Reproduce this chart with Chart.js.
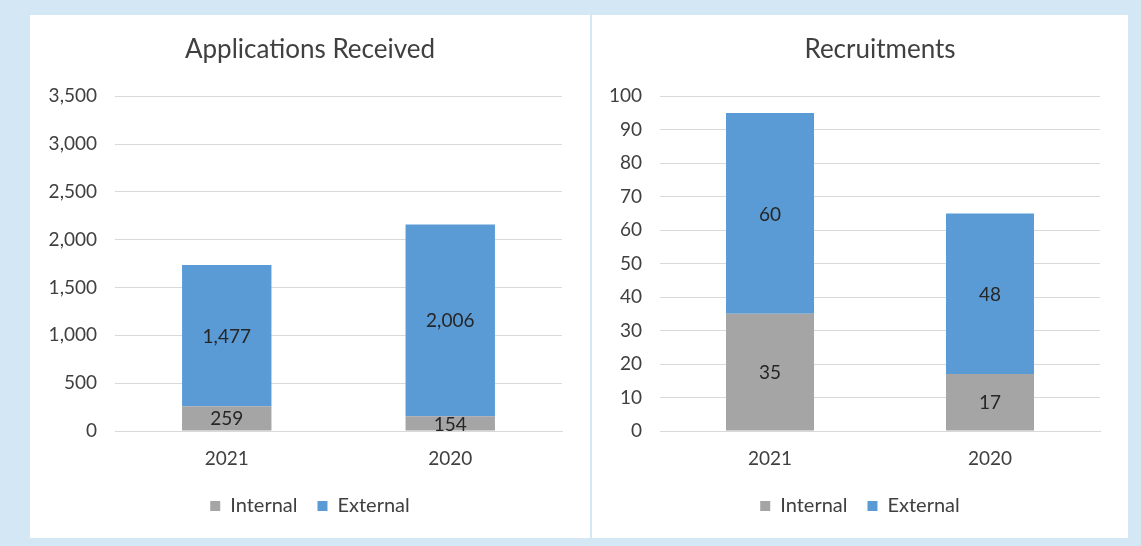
<!DOCTYPE html>
<html>
<head>
<meta charset="utf-8">
<script src="https://cdn.jsdelivr.net/npm/chart.js@4"></script>
<style>
  html, body { margin: 0; padding: 0; background: #d3e8f4; width: 1141px; height: 546px; overflow: hidden; }
  #panel { position: absolute; left: 30px; top: 15px; width: 1098px; height: 523px; background: #fff; }
  #divider { position: absolute; left: 560px; top: 0; width: 2px; height: 523px; background: #d3e8f4; }
  #c1 { position: absolute; left: 0; top: 0; }
  #c2 { position: absolute; left: 562px; top: 0; }
</style>
</head>
<body>
<div id="panel">
  <canvas id="c1" width="560" height="523"></canvas>
  <div id="divider"></div>
  <canvas id="c2" width="536" height="523"></canvas>
</div>
<script>
var years = ['2021', '2020'];
var appsInternal = [259, 154];
var appsExternal = [1477, 2006];
var recInternal = [35, 17];
var recExternal = [60, 48];

var GREY = '#a5a5a5';
var BLUE = '#5b9bd5';
var TEXT = '#404040';
var FONT = 'Lato';

// labels au centre de chaque segment
var segmentLabels = {
    id: 'segmentLabels',
    afterDatasetsDraw: function(chart) {
        var ctx = chart.ctx;
        ctx.save();
        ctx.font = '19px ' + FONT;
        ctx.fillStyle = '#262626';
        ctx.textAlign = 'center';
        ctx.textBaseline = 'middle';
        chart.data.datasets.forEach(function(ds, i) {
            chart.getDatasetMeta(i).data.forEach(function(bar, j) {
                var y = (bar.y + bar.base) / 2;
                ctx.fillText(ds.data[j].toLocaleString('en-US'), bar.x, y + 1);
            });
        });
        ctx.restore();
    }
};

function makeChart(id, title, internal, external, max, step, yWidth, titleFull) {
    var ctx = document.getElementById(id).getContext('2d');
    return new Chart(ctx, {
        type: 'bar',
        data: {
            labels: years,
            datasets: [
                { label: 'Internal', data: internal, backgroundColor: GREY, barPercentage: 0.4, categoryPercentage: 1 },
                { label: 'External', data: external, backgroundColor: BLUE, barPercentage: 0.4, categoryPercentage: 1 }
            ]
        },
        options: {
            responsive: false,
            animation: false,
            devicePixelRatio: 1,
            layout: { padding: { left: 0, right: 0, top: 0, bottom: 12 } },
            plugins: {
                title: {
                    display: true, text: title, color: TEXT, fullSize: titleFull,
                    font: { family: FONT, size: 26, weight: 'normal' },
                    padding: { top: 19, bottom: 31 }
                },
                legend: {
                    position: 'bottom',
                    labels: { boxWidth: 10, boxHeight: 10, padding: 20, color: TEXT, font: { family: FONT, size: 20 } }
                },
                tooltip: { enabled: false }
            },
            scales: {
                x: {
                    stacked: true,
                    grid: { display: false },
                    border: { color: '#d9d9d9', width: 1 },
                    ticks: { color: TEXT, padding: 8, font: { family: FONT, size: 19 } },
                    afterFit: function(s) { s.height = 45; }
                },
                y: {
                    stacked: true,
                    min: 0, max: max,
                    border: { display: false },
                    grid: { color: '#d9d9d9', drawTicks: false },
                    ticks: {
                        stepSize: step, color: TEXT, padding: 18,
                        font: { family: FONT, size: 19 },
                        callback: function(v) { return v.toLocaleString('en-US'); }
                    },
                    afterFit: function(s) { s.width = yWidth; }
                },
                // espace vide a droite du graphique
                spacer: {
                    position: 'right',
                    grid: { display: false },
                    border: { display: false },
                    ticks: { display: false },
                    afterFit: function(s) { s.width = 28; }
                }
            }
        },
        plugins: [segmentLabels]
    });
}

makeChart('c1', 'Applications Received', appsInternal, appsExternal, 3500, 500, 85, true);
makeChart('c2', 'Recruitments', recInternal, recExternal, 100, 10, 68, false);
</script>
</body>
</html>
